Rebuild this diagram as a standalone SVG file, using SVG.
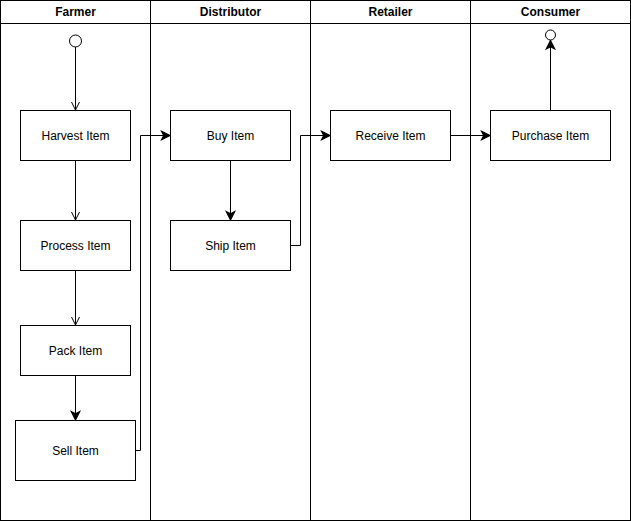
<svg xmlns="http://www.w3.org/2000/svg" width="631" height="521" viewBox="0 0 631 521">
  <style>
    .lane { fill: none; stroke: #000; stroke-width: 1; }
    .hdr { font-family: "Liberation Sans", Arial, sans-serif; font-size: 12px; font-weight: bold; text-anchor: middle; fill: #000; }
    .box { fill: #fff; stroke: #000; stroke-width: 1; }
    .lbl { font-family: "Liberation Sans", Arial, sans-serif; font-size: 12px; text-anchor: middle; fill: #000; }
    .edge { fill: none; stroke: #000; stroke-width: 1; }
    .term { fill: #fff; stroke: #000; stroke-width: 1; }
  </style>
  <defs>
    <marker id="classic" markerUnits="userSpaceOnUse" markerWidth="12" markerHeight="12" viewBox="-8 -5 10 10" refX="0" refY="0" orient="auto">
      <path d="M0,0 L-7,-3.5 L-5.25,0 L-7,3.5 Z" fill="#000" stroke="#000" stroke-width="1"/>
    </marker>
    <marker id="open" markerUnits="userSpaceOnUse" markerWidth="12" markerHeight="12" viewBox="-9 -6 11 12" refX="0" refY="0" orient="auto">
      <path d="M-8,-4 L0,0 L-8,4" fill="none" stroke="#000" stroke-width="1"/>
    </marker>
  </defs>

  <!-- swimlane frame -->
  <g id="pool">
    <rect class="lane" x="0.5" y="0.5" width="630" height="520"/>
    <line class="lane" x1="0.5" y1="23.5" x2="630.5" y2="23.5"/>
    <line class="lane" x1="150.5" y1="0.5" x2="150.5" y2="520.5"/>
    <line class="lane" x1="310.5" y1="0.5" x2="310.5" y2="520.5"/>
    <line class="lane" x1="470.5" y1="0.5" x2="470.5" y2="520.5"/>
    <text class="hdr" x="75.5" y="16">Farmer</text>
    <text class="hdr" x="230.5" y="16">Distributor</text>
    <text class="hdr" x="390.5" y="16">Retailer</text>
    <text class="hdr" x="550.5" y="16">Consumer</text>
  </g>

  <!-- connectors -->
  <g id="connectors">
    <path class="edge" d="M75.5,47 L75.5,110" marker-end="url(#open)"/>
    <path class="edge" d="M75.5,160.5 L75.5,220" marker-end="url(#open)"/>
    <path class="edge" d="M75.5,270.5 L75.5,325" marker-end="url(#open)"/>
    <path class="edge" d="M75.5,375.5 L75.5,420" marker-end="url(#classic)"/>
    <path class="edge" d="M135.5,450.5 L140.5,450.5 L140.5,135.5 L170,135.5" marker-end="url(#classic)"/>
    <path class="edge" d="M230.5,160.5 L230.5,220" marker-end="url(#classic)"/>
    <path class="edge" d="M290.5,245.5 L300.5,245.5 L300.5,135.5 L330,135.5" marker-end="url(#classic)"/>
    <path class="edge" d="M450.5,135.5 L490,135.5" marker-end="url(#classic)"/>
    <path class="edge" d="M550.5,110.5 L550.5,40.5" marker-end="url(#classic)"/>
  </g>

  <!-- nodes -->
  <g id="start">
    <circle class="term" cx="75.5" cy="41" r="6"/>
  </g>
  <g id="harvest">
    <rect class="box" x="20.5" y="110.5" width="110" height="50"/>
    <text class="lbl" x="75.5" y="140">Harvest Item</text>
  </g>
  <g id="process">
    <rect class="box" x="20.5" y="220.5" width="110" height="50"/>
    <text class="lbl" x="75.5" y="250">Process Item</text>
  </g>
  <g id="pack">
    <rect class="box" x="20.5" y="325.5" width="110" height="50"/>
    <text class="lbl" x="75.5" y="355">Pack Item</text>
  </g>
  <g id="sell">
    <rect class="box" x="15.5" y="420.5" width="120" height="60"/>
    <text class="lbl" x="75.5" y="455">Sell Item</text>
  </g>
  <g id="buy">
    <rect class="box" x="170.5" y="110.5" width="120" height="50"/>
    <text class="lbl" x="230.5" y="140">Buy Item</text>
  </g>
  <g id="ship">
    <rect class="box" x="170.5" y="220.5" width="120" height="50"/>
    <text class="lbl" x="230.5" y="250">Ship Item</text>
  </g>
  <g id="receive">
    <rect class="box" x="330.5" y="110.5" width="120" height="50"/>
    <text class="lbl" x="390.5" y="140">Receive Item</text>
  </g>
  <g id="purchase">
    <rect class="box" x="490.5" y="110.5" width="120" height="50"/>
    <text class="lbl" x="550.5" y="140">Purchase Item</text>
  </g>
  <g id="end">
    <circle class="term" cx="550.5" cy="35" r="5"/>
  </g>
</svg>
